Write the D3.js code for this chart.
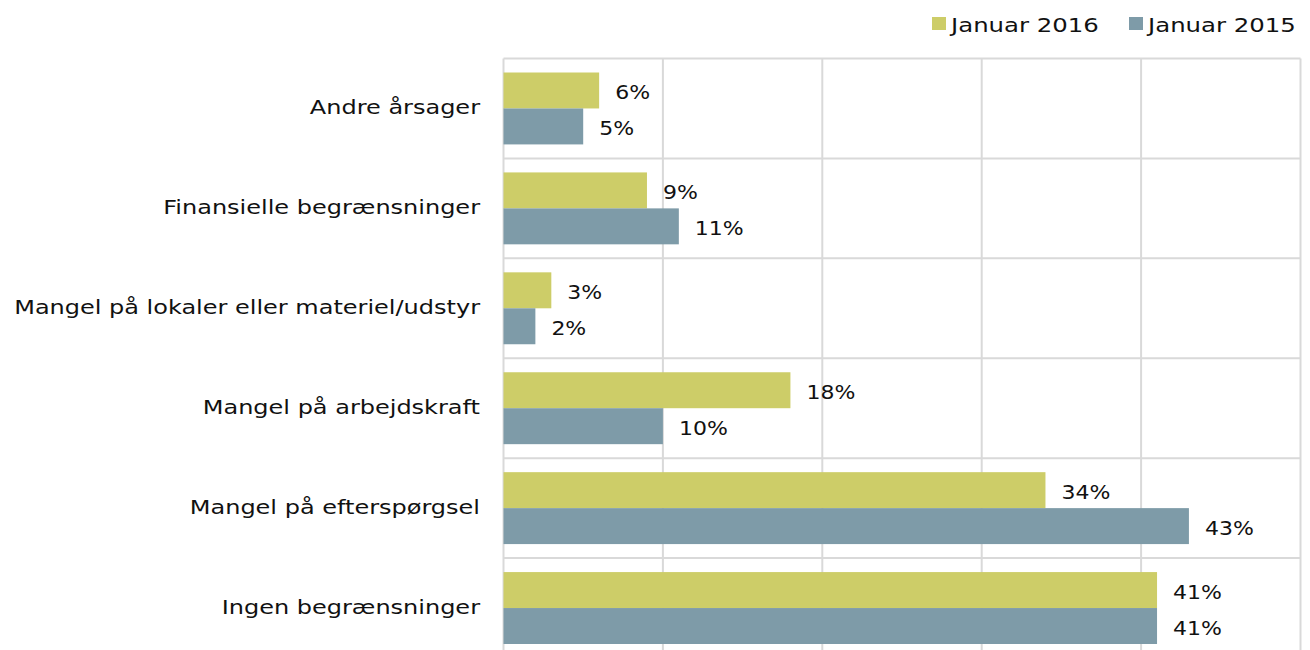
<!DOCTYPE html>
<html>
<head>
<meta charset="utf-8">
<script src="https://cdn.jsdelivr.net/npm/d3@7"></script>
<style>
  body { margin: 0; background: #fff; }
  svg text { font-family: "DejaVu Sans", Verdana, sans-serif; fill: #111; font-size: 20px; }
</style>
</head>
<body>
<div id="chart"></div>
<script>
// chart data
const categories = [
  "Andre årsager",
  "Finansielle begrænsninger",
  "Mangel på lokaler eller materiel/udstyr",
  "Mangel på arbejdskraft",
  "Mangel på efterspørgsel",
  "Ingen begrænsninger"
];
const seriesNames = ["Januar 2016", "Januar 2015"];
const jan2016 = [6, 9, 3, 18, 34, 41];
const jan2015 = [5, 11, 2, 10, 43, 41];
const xTicks = [0, 10, 20, 30, 40, 50];

const colors = ['#cdcd68', '#7e9ba8'];

let width = 1310, height = 650;
let margin = {top: 58.5, left: 503.5, right: 9.5, bottom: -8};
// the original picture is a bit stretched sideways, so the text is too
let textStretch = 1.2, legendStretch = 1.22, valueStretch = 1.1;

let rows = categories.map(function(c, i){
  return {cat: c, values: [jan2016[i], jan2015[i]]};
});

let svg = d3.select('#chart').append('svg')
  .attr('width', width)
  .attr('height', height);

let x = d3.scaleLinear()
  .domain([0, 50])
  .range([margin.left, width - margin.right]);

let y = d3.scaleBand()
  .domain(categories)
  .range([margin.top, height - margin.bottom])
  .paddingInner(0)
  .paddingOuter(0);

let ySub = d3.scaleBand()
  .domain(seriesNames)
  .range([14, y.bandwidth() - 14]);

// gridlines
let grid = svg.append('g');
grid.selectAll('line.v')
  .data(xTicks)
  .enter().append('line')
  .attr('x1', d => x(d)).attr('x2', d => x(d))
  .attr('y1', margin.top).attr('y2', height - margin.bottom)
  .attr('stroke', '#d9d9d9')
  .attr('stroke-width', 2);
grid.selectAll('line.h')
  .data(categories)
  .enter().append('line')
  .attr('x1', margin.left).attr('x2', width - margin.right)
  .attr('y1', d => y(d)).attr('y2', d => y(d))
  .attr('stroke', '#d9d9d9')
  .attr('stroke-width', 2);

// bars
let groups = svg.append('g').selectAll('g')
  .data(rows)
  .enter().append('g')
  .attr('transform', d => 'translate(0,' + y(d.cat) + ')');

groups.selectAll('rect')
  .data(d => d.values.map((v, i) => ({name: seriesNames[i], value: v, idx: i})))
  .enter().append('rect')
  .attr('x', x(0))
  .attr('y', d => ySub(d.name))
  .attr('width', d => x(d.value) - x(0))
  .attr('height', ySub.bandwidth())
  .attr('fill', d => colors[d.idx]);

groups.selectAll('text')
  .data(d => d.values.map((v, i) => ({name: seriesNames[i], value: v})))
  .enter().append('text')
  .attr('transform', d => 'translate(' + (x(d.value) + 16) + ',' +
        (ySub(d.name) + ySub.bandwidth() / 2) + ') scale(' + valueStretch + ',1)')
  .attr('dy', '0.44em')
  .text(d => d.value + '%');

// category labels
svg.append('g').selectAll('text')
  .data(categories)
  .enter().append('text')
  .attr('transform', d => 'translate(480,' + (y(d) + y.bandwidth() / 2) +
        ') scale(' + textStretch + ',1)')
  .attr('dy', '0.3em')
  .attr('text-anchor', 'end')
  .text(d => d);

// legend
let legendPos = [932, 1129];
let legend = svg.append('g').selectAll('g')
  .data(seriesNames)
  .enter().append('g')
  .attr('transform', (d, i) => 'translate(' + legendPos[i] + ',17)');
legend.append('rect')
  .attr('width', 14).attr('height', 13)
  .attr('fill', (d, i) => colors[i]);
legend.append('text')
  .attr('transform', 'translate(19,15) scale(' + legendStretch + ',1)')
  .text(d => d);
</script>
</body>
</html>
